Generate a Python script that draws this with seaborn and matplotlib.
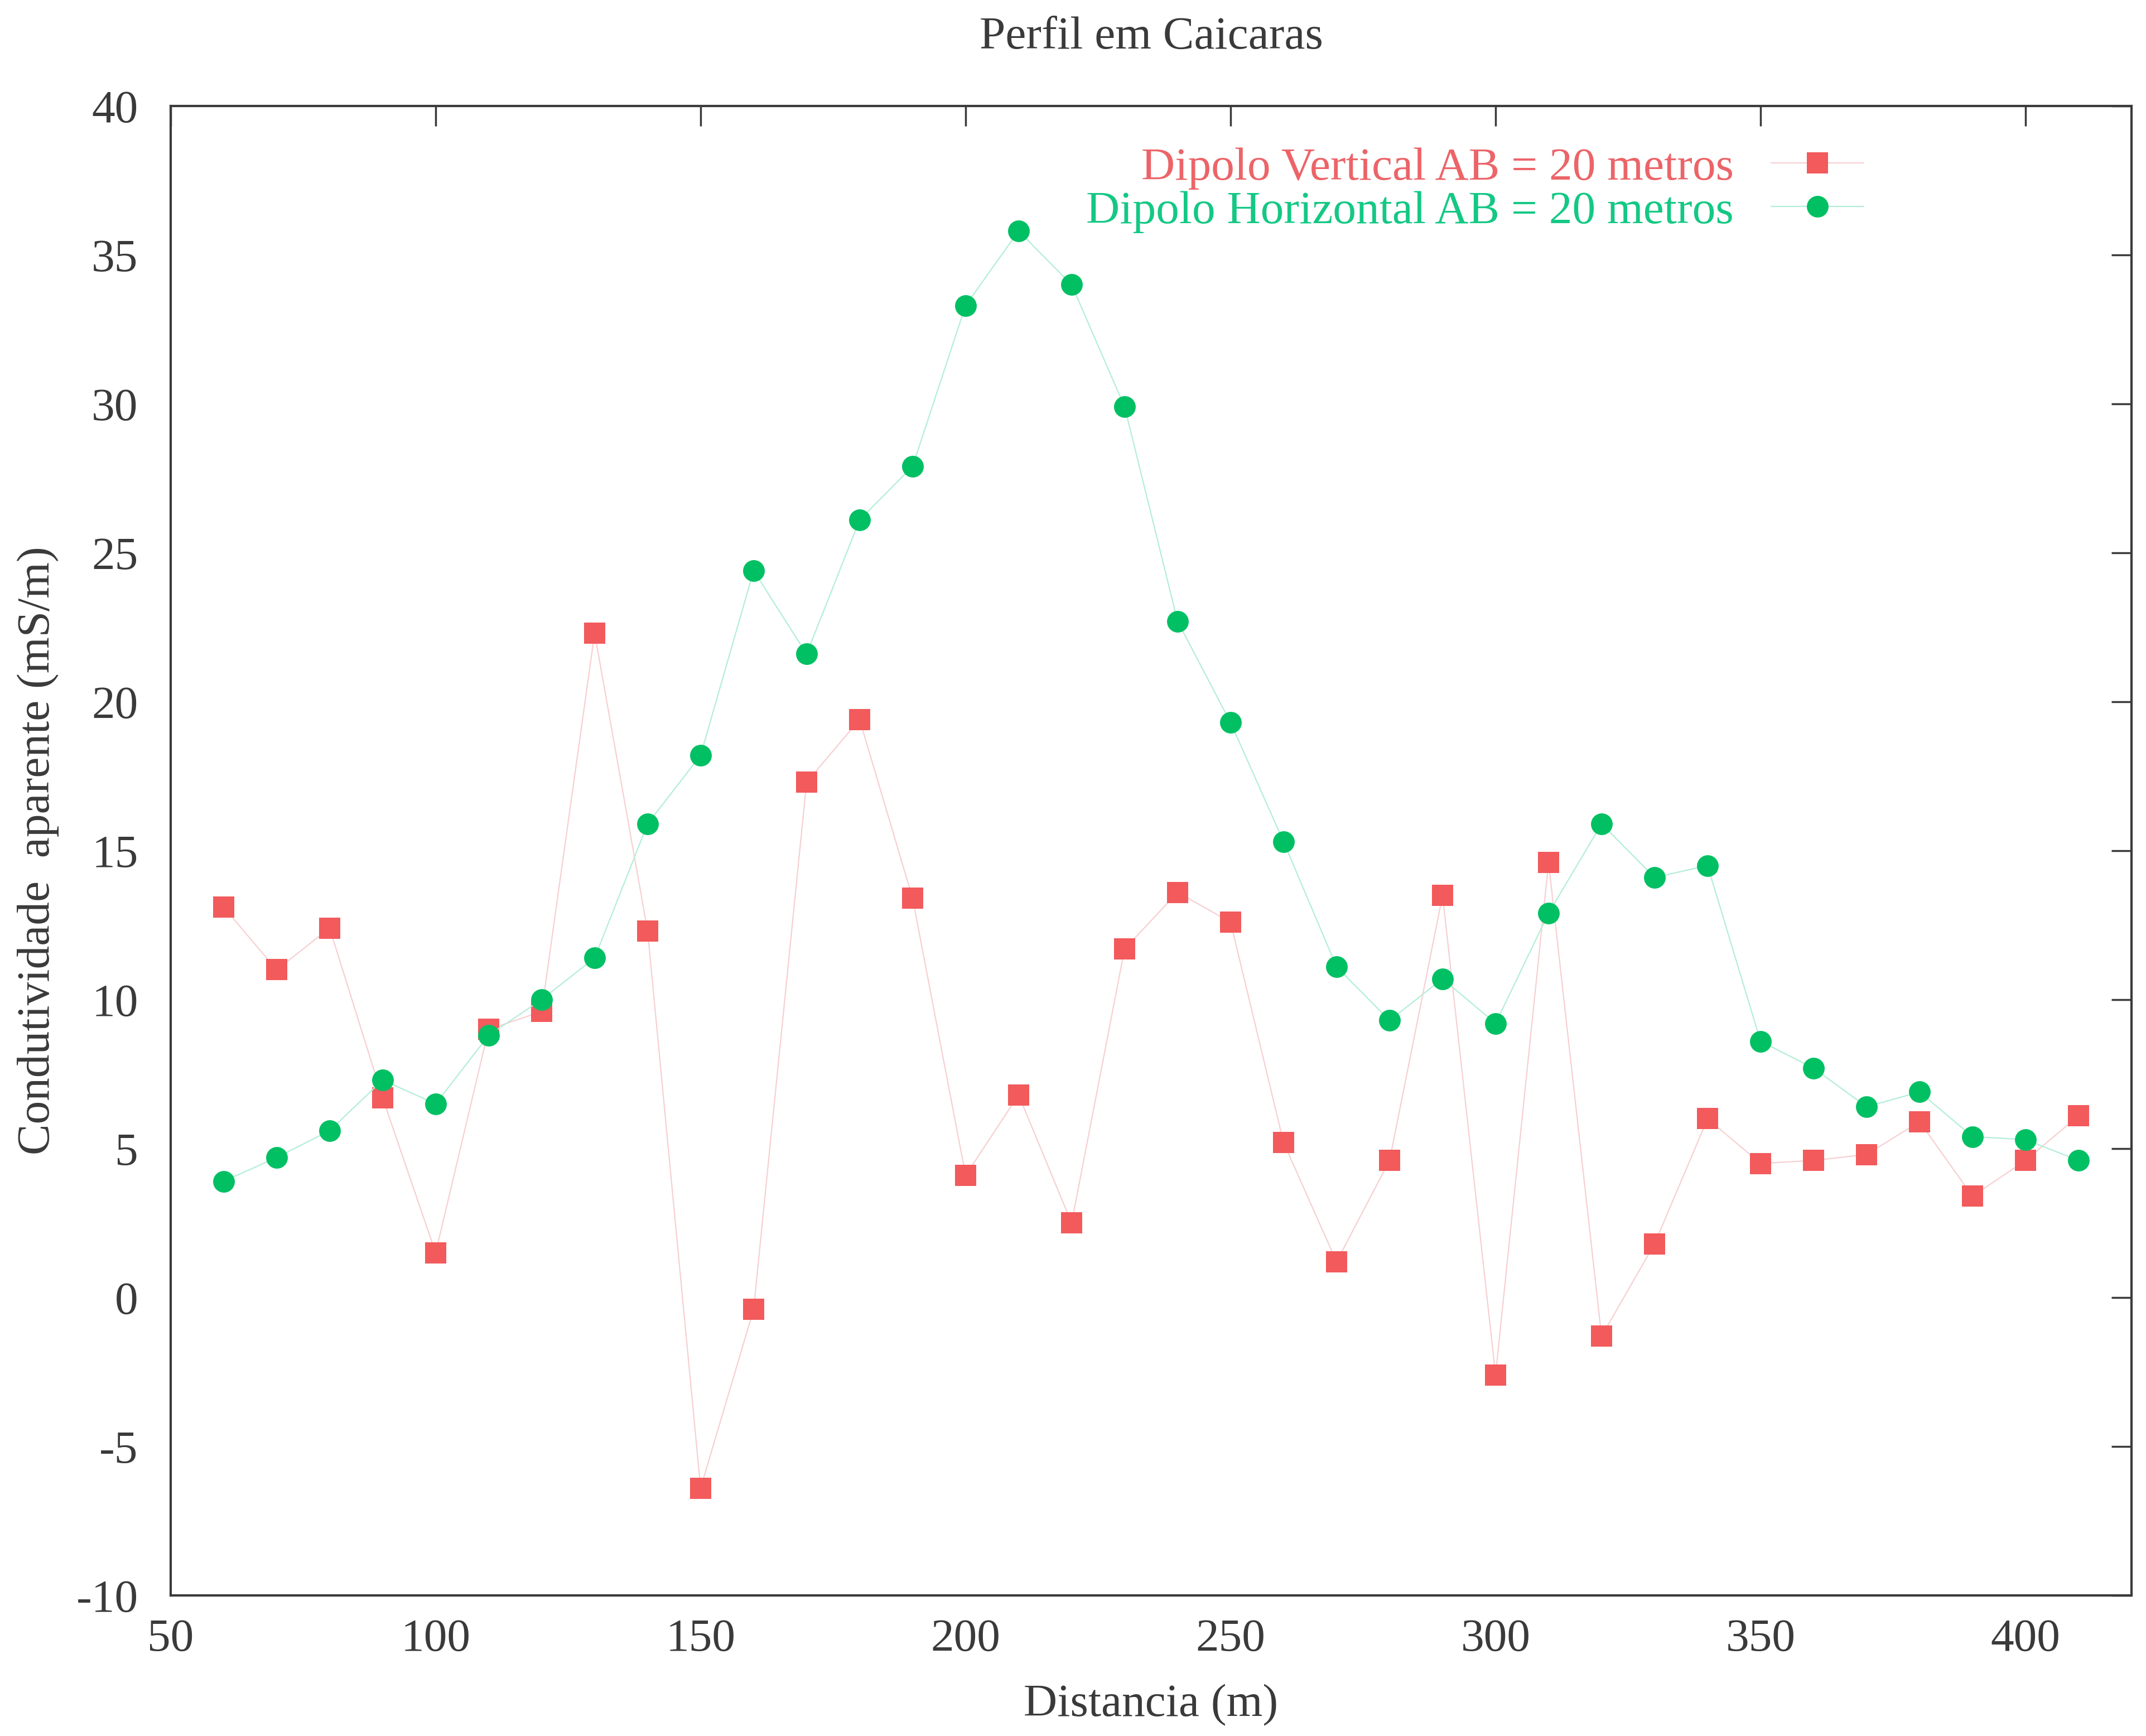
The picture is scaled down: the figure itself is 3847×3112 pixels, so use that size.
import numpy as np
import pandas as pd
import matplotlib
matplotlib.use("Agg")
import matplotlib.pyplot as plt
import seaborn as sns

distancia = [60, 70, 80, 90, 100, 110, 120, 130, 140, 150, 160, 170, 180, 190,
             200, 210, 220, 230, 240, 250, 260, 270, 280, 290, 300, 310, 320,
             330, 340, 350, 360, 370, 380, 390, 400, 410]
vertical = [13.1, 11.0, 12.4, 6.7, 1.5, 9.0, 9.6, 22.3, 12.3, -6.4, -0.4, 17.3,
            19.4, 13.4, 4.1, 6.8, 2.5, 11.7, 13.6, 12.6, 5.2, 1.2, 4.6, 13.5,
            -2.6, 14.6, -1.3, 1.8, 6.0, 4.5, 4.6, 4.8, 5.9, 3.4, 4.6, 6.1]
horizontal = [3.9, 4.7, 5.6, 7.3, 6.5, 8.8, 10.0, 11.4, 15.9, 18.2, 24.4, 21.6,
              26.1, 27.9, 33.3, 35.8, 34.0, 29.9, 22.7, 19.3, 15.3, 11.1, 9.3,
              10.7, 9.2, 12.9, 15.9, 14.1, 14.5, 8.6, 7.7, 6.4, 6.9, 5.4, 5.3, 4.6]

label_v = "Dipolo Vertical AB = 20 metros"
label_h = "Dipolo Horizontal AB = 20 metros"
title = "Perfil em Caicaras"
xlabel = "Distancia (m)"
ylabel = "Condutividade  aparente (mS/m)"
xticks = [50, 100, 150, 200, 250, 300, 350, 400]
yticks = [-10, -5, 0, 5, 10, 15, 20, 25, 30, 35, 40]

df_v = pd.DataFrame({"x": distancia, "y": vertical})
df_h = pd.DataFrame({"x": distancia, "y": horizontal})

sns.set_theme(style="white")
plt.rcParams["font.family"] = ["Liberation Serif", "DejaVu Serif"]
plt.rcParams["text.color"] = "#333333"
plt.rcParams["axes.unicode_minus"] = False

fig = plt.figure(figsize=(38.48, 31.12), dpi=100)
ax = fig.add_axes([0.0795, 0.081, 0.9135, 0.858])

red_m = "#f25a5c"
red_l = "#f7d0d2"
green_m = "#00c063"
green_l = "#b4eed8"

sns.lineplot(data=df_v, x="x", y="y", ax=ax, color=red_l, lw=1.6,
             marker="s", markersize=27, markerfacecolor=red_m,
             markeredgecolor=red_m, markeredgewidth=0, label=label_v)
sns.lineplot(data=df_h, x="x", y="y", ax=ax, color=green_l, lw=1.6,
             marker="o", markersize=28, markerfacecolor=green_m,
             markeredgecolor=green_m, markeredgewidth=0, label=label_h)

ax.set_xlim(50, 420)
ax.set_ylim(-10, 40)
ax.set_xticks(xticks)
ax.set_yticks(yticks)
fs = 60
ax.tick_params(axis="both", which="major", direction="in", length=26, width=2.5,
               labelsize=fs, colors="#3a3a3a", top=True, right=True)
ax.tick_params(axis="y", pad=42)
ax.tick_params(axis="x", pad=30)
for s in ax.spines.values():
    s.set_visible(True)
    s.set_color("#3a3a3a")
    s.set_linewidth(3)

ax.set_xlabel(xlabel, fontsize=fs, color="#3a3a3a", labelpad=30)
ax.set_ylabel(ylabel, fontsize=fs, color="#3a3a3a", labelpad=22)
ax.set_title(title, fontsize=fs, color="#3a3a3a", pad=74)

leg = ax.legend(loc="upper right", bbox_to_anchor=(0.873, 0.985), frameon=False,
                markerfirst=False, fontsize=fs, handlelength=2.0,
                handletextpad=0.8, labelspacing=0.02, borderaxespad=0)
for t, c in zip(leg.get_texts(), ["#ec6468", "#14c884"]):
    t.set_color(c)

fig.savefig("out.png", dpi=100, facecolor="white")
